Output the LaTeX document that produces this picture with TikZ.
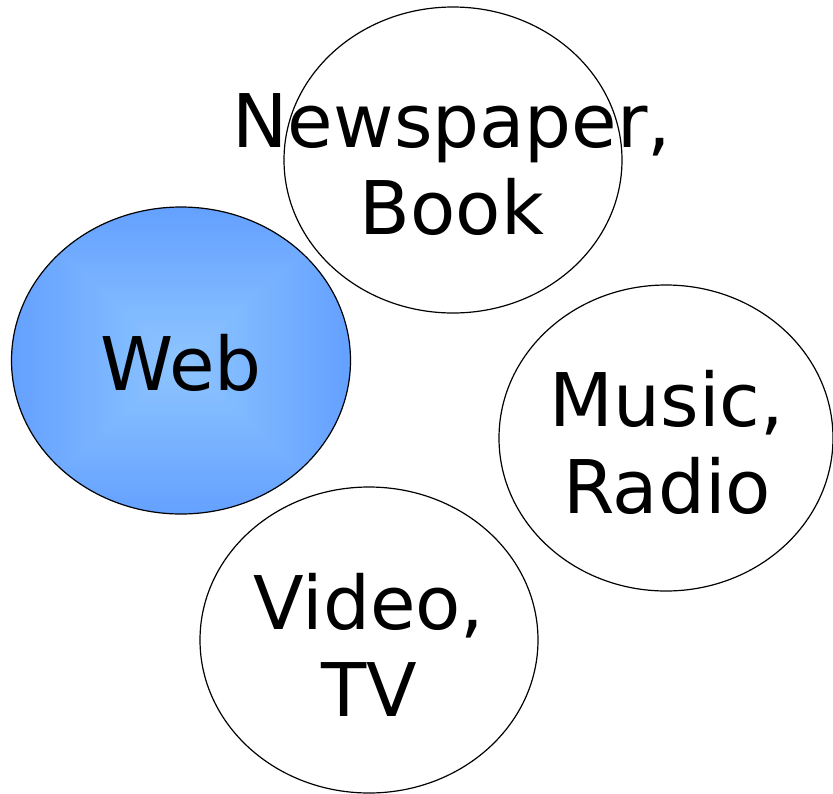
\documentclass[tikz,border=0pt]{standalone}
\usepackage{fontspec}
\setmainfont{DejaVu Sans}
\usetikzlibrary{shapes.geometric}
\definecolor{webout}{RGB}{100,160,255}
\definecolor{webin}{RGB}{142,198,255}
\tikzset{
  bubble/.style={ellipse, draw=black, line width=1.2pt, inner sep=0pt,
    minimum width=338pt, minimum height=306pt},
  label/.style={align=center, inner sep=0pt, font=\fontsize{74}{87}\selectfont},
}
\begin{document}
\begin{tikzpicture}[x=1pt,y=-1pt]
\useasboundingbox (0,0) rectangle (833,793);
% Web gradient fill
\begin{scope}
  \clip (181,360.5) ellipse [x radius=169.5, y radius=153.5];
  \foreach \i in {0,...,40}{
    \pgfmathsetmacro\w{172*(1-\i/40)}
    \pgfmathsetmacro\h{156*(1-\i/40)}
    \pgfmathsetmacro\p{100*\i/40}
    \fill[webin!\p!webout] (181-\w,362-\h) rectangle (181+\w,362+\h);
  }
\end{scope}
\node[bubble, minimum width=339pt, minimum height=307pt] (web) at (181,360.5) {};
\node[bubble] (news) at (453,160) {};
\node[bubble, minimum width=334pt] (music) at (666,438) {};
\node[bubble] (video) at (369,640) {};
\node[label] (webtext) at ([yshift=-2pt]web.center) {Web};
\node[label] (newstext) at ([xshift=-1pt,yshift=-5pt]news.center) {Newspaper,\\Book};
\node[label] (musictext) at ([xshift=1pt,yshift=-4pt]music.center) {Music,\\Radio};
\node[label] (videotext) at ([yshift=-5pt]video.center) {Video,\\TV};
\end{tikzpicture}
\end{document}
